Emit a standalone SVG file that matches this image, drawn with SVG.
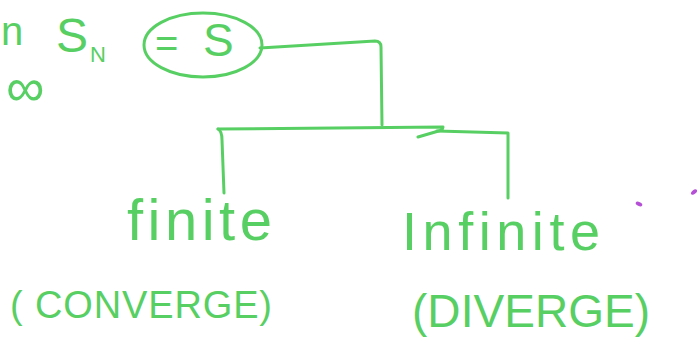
<svg xmlns="http://www.w3.org/2000/svg" width="697" height="358" viewBox="0 0 697 358">
  <style>
    .ink { fill: none; stroke: #58cf63; stroke-width: 3; stroke-linecap: round; stroke-linejoin: round; }
    .txt { fill: #58cf63; font-family: "Liberation Sans", "DejaVu Sans", sans-serif; }
    .dot { fill: #b44fd6; }
  </style>
  <rect width="697" height="358" fill="#ffffff"/>

  <!-- limit expression at the left edge -->
  <g id="limit">
    <text class="txt" x="1" y="45" font-size="40">n</text>
    <text class="txt" x="56" y="52" font-size="48">S</text>
    <text class="txt" x="90" y="62" font-size="22">N</text>
    <text class="txt" x="6" y="106" font-size="54">∞</text>
  </g>

  <!-- circled value -->
  <g id="sum">
    <ellipse class="ink" cx="203" cy="45" rx="59" ry="32"/>
    <text class="txt" x="155" y="57" font-size="40">=</text>
    <text class="txt" x="203" y="56" font-size="46">S</text>
  </g>

  <!-- branch lines -->
  <g id="connectors">
    <path class="ink" d="M260 48 L375 41 Q381 41 381 47 L382 125"/>
    <path class="ink" d="M218 129 L443 127 L442 130 L418 137"/>
    <path class="ink" d="M437 131 L508 133 L508 198"/>
    <path class="ink" d="M218 129 Q222 131 222 140 L224 193"/>
  </g>

  <g id="finite">
    <text class="txt" x="127" y="240" font-size="58" textLength="145" lengthAdjust="spacing">finite</text>
    <text class="txt" x="10" y="318" font-size="38" textLength="262" lengthAdjust="spacing">( CONVERGE)</text>
  </g>

  <g id="infinite">
    <text class="txt" x="402" y="250" font-size="54" textLength="198" lengthAdjust="spacing">Infinite</text>
    <text class="txt" x="412" y="327" font-size="46" textLength="238" lengthAdjust="spacing">(DIVERGE)</text>
  </g>

  <!-- stray pen marks -->
  <ellipse class="dot" cx="639" cy="204" rx="3.5" ry="2" transform="rotate(25 639 204)"/>
  <ellipse class="dot" cx="694" cy="192" rx="3.5" ry="2" transform="rotate(-40 694 192)"/>
</svg>
